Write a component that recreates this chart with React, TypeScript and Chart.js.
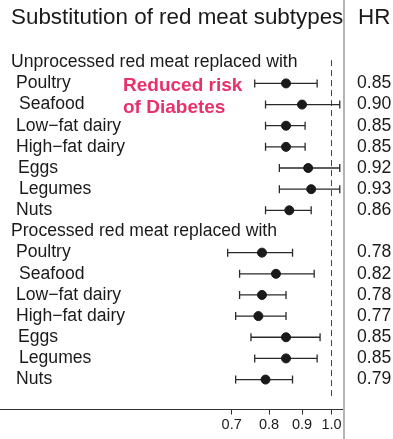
import React, { useEffect, useRef } from "react";
import { Chart, registerables } from "chart.js";

Chart.register(...registerables);

const title = "Substitution of red meat subtypes";
const hrHeader = "HR";
const groupHeaders = ["Unprocessed red meat replaced with", "Processed red meat replaced with"];
const subtypes = ["Poultry", "Seafood", "Low\u2212fat dairy", "High\u2212fat dairy", "Eggs", "Legumes", "Nuts"];
const labelIndent = [16, 19, 16, 16, 18, 19, 16];

const unprocHR = [0.85, 0.90, 0.85, 0.85, 0.92, 0.93, 0.86];
const unprocLo = [0.76, 0.79, 0.79, 0.79, 0.83, 0.83, 0.79];
const unprocHi = [0.95, 1.03, 0.91, 0.91, 1.03, 1.03, 0.93];

const procHR = [0.78, 0.82, 0.78, 0.77, 0.85, 0.85, 0.79];
const procLo = [0.69, 0.72, 0.72, 0.71, 0.75, 0.76, 0.71];
const procHi = [0.87, 0.94, 0.85, 0.85, 0.96, 0.95, 0.87];

const xTicks = [0.7, 0.8, 0.9, 1.0];
const annotation = ["Reduced risk", "of Diabetes"];

const FONT = "'Liberation Sans', Arial, Helvetica, sans-serif";

export default function App() {
  const ref = useRef<HTMLCanvasElement | null>(null);

  useEffect(() => {
    const canvas = ref.current;
    if (!canvas) return;

    // rows: 0 = unprocessed header, 1..7 unprocessed, 8 = processed header, 9..15 processed
    const hrAll = [...unprocHR, ...procHR];
    const loAll = [...unprocLo, ...procLo];
    const hiAll = [...unprocHi, ...procHi];
    const rowOf = (i: number) => (i < 7 ? i + 1 : i + 2);
    const points = hrAll.map((v, i) => ({ x: v, y: rowOf(i) }));

    const overlay = {
      id: "forestOverlay",
      beforeDatasetsDraw(chart: any) {
        const { ctx, scales } = chart;
        const xs = scales.x;
        const ys = scales.y;
        ctx.save();
        // dashed reference line at 1.0
        const x1 = Math.round(xs.getPixelForValue(1.0)) + 0.5;
        ctx.strokeStyle = "#444";
        ctx.lineWidth = 1;
        ctx.setLineDash([6, 4]);
        ctx.beginPath();
        ctx.moveTo(x1, ys.getPixelForValue(-0.1));
        ctx.lineTo(x1, ys.getPixelForValue(15.95));
        ctx.stroke();
        ctx.setLineDash([]);
        // error bars
        ctx.strokeStyle = "#2a2a2a";
        ctx.lineWidth = 1.3;
        for (let i = 0; i < hrAll.length; i++) {
          const y = ys.getPixelForValue(rowOf(i));
          const a = xs.getPixelForValue(loAll[i]);
          const b = xs.getPixelForValue(hiAll[i]);
          ctx.beginPath();
          ctx.moveTo(a, y);
          ctx.lineTo(b, y);
          ctx.moveTo(a, y - 4);
          ctx.lineTo(a, y + 4);
          ctx.moveTo(b, y - 4);
          ctx.lineTo(b, y + 4);
          ctx.stroke();
        }
        ctx.restore();
      },
      afterDraw(chart: any) {
        const { ctx, scales, chartArea } = chart;
        const ys = scales.y;
        ctx.save();
        ctx.textBaseline = "middle";
        ctx.textAlign = "left";
        ctx.fillStyle = "#1a1a1a";
        // title
        ctx.font = `22.4px ${FONT}`;
        ctx.fillText(title, 11, ys.getPixelForValue(-2.09));
        ctx.fillText(hrHeader, 358, ys.getPixelForValue(-2.09));
        // group headers and rows
        ctx.font = `17.6px ${FONT}`;
        ctx.fillText(groupHeaders[0], 11, ys.getPixelForValue(0));
        ctx.fillText(groupHeaders[1], 11, ys.getPixelForValue(8));
        for (let i = 0; i < hrAll.length; i++) {
          const y = ys.getPixelForValue(rowOf(i));
          ctx.fillText(subtypes[i % 7], labelIndent[i % 7], y);
          ctx.fillText(hrAll[i].toFixed(2), 357, y);
        }
        // annotation
        ctx.fillStyle = "#e8306a";
        ctx.font = `bold 19px ${FONT}`;
        ctx.fillText(annotation[0], 123, ys.getPixelForValue(1.1));
        ctx.fillText(annotation[1], 123, ys.getPixelForValue(2.15));
        // vertical grey separator
        ctx.strokeStyle = "#b3b3b3";
        ctx.lineWidth = 2;
        ctx.beginPath();
        ctx.moveTo(chartArea.right + 1, 0);
        ctx.lineTo(chartArea.right + 1, chart.height);
        ctx.stroke();
        ctx.restore();
      },
    };

    const chart = new Chart(canvas, {
      type: "scatter",
      data: {
        datasets: [
          {
            data: points,
            backgroundColor: "#1a1a1a",
            borderColor: "#1a1a1a",
            pointRadius: 4.5,
            pointHoverRadius: 4.5,
          },
        ],
      },
      options: {
        animation: false,
        responsive: false,
        events: [],
        layout: { autoPadding: false, padding: { left: 0, right: 50, top: 0, bottom: 3 } },
        plugins: { legend: { display: false }, tooltip: { enabled: false } },
        scales: {
          x: {
            type: "logarithmic",
            min: 0.3058,
            max: 1.042,
            afterBuildTicks: (axis: any) => {
              axis.ticks = xTicks.map((v) => ({ value: v }));
            },
            grid: {
              display: true,
              drawOnChartArea: false,
              drawTicks: true,
              tickLength: 5,
              color: "#333",
            },
            border: { display: true, color: "#333", width: 1 },
            ticks: {
              color: "#1a1a1a",
              font: { family: FONT, size: 14.5 },
              padding: 2,
              maxRotation: 0,
              autoSkip: false,
              callback: (v: any) => Number(v).toFixed(1),
            },
          },
          y: {
            type: "linear",
            display: false,
            reverse: true,
            min: -2.943,
            max: 16.42,
          },
        },
      },
      plugins: [overlay],
    });

    return () => chart.destroy();
  }, []);

  return (
    <div style={{ position: "absolute", left: 0, top: 0, width: 393, height: 439, background: "#fff" }}>
      <canvas ref={ref} width={393} height={439} style={{ display: "block", width: 393, height: 439 }} />
    </div>
  );
}
